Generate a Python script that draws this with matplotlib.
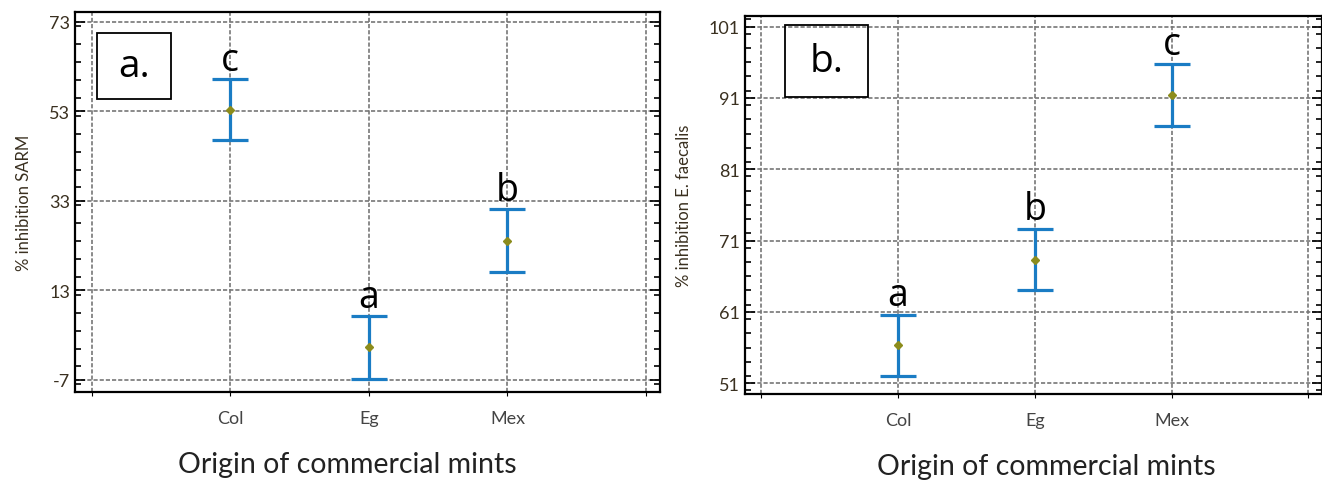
import matplotlib
matplotlib.use("Agg")
import matplotlib.pyplot as plt
from matplotlib.patches import Rectangle
from matplotlib.ticker import MultipleLocator

# datos
origens = ["Col", "Eg", "Mex"]
media_sarm = [53.4, 0.3, 24.1]
erro_sarm = [6.9, 7.0, 7.0]
letras_sarm = ["c", "a", "b"]

media_ef = [56.3, 68.3, 91.4]
erro_ef = [4.3, 4.3, 4.4]
letras_ef = ["a", "b", "c"]

plt.rcParams['font.family'] = ['Lato', 'DejaVu Sans']
plt.rcParams['axes.unicode_minus'] = False

fig = plt.figure(figsize=(13.22, 4.81), dpi=100)
ax1 = fig.add_axes([0.0567, 0.183, 0.4425, 0.790])
ax2 = fig.add_axes([0.5635, 0.179, 0.4365, 0.786])

def painel(ax, media, erro, letras, ylim, ymin, ytks, ylabel, tag, tagbox, off, xlab_x):
    x = [1, 2, 3]
    ax.errorbar(x, media, yerr=erro, fmt='none', ecolor='#1a7cc4', elinewidth=2.3,
                capsize=13, capthick=2.3, zorder=3)
    ax.plot(x, media, 'D', color='#8c8c1c', markersize=4, zorder=4)
    for xi, m, e, l in zip(x, media, erro, letras):
        ax.text(xi, m + e + off, l, ha='center', va='baseline', fontsize=27,
                family='Open Sans', color='black')
    ax.set_xlim(-0.12, 4.1)
    ax.set_ylim(*ylim)
    ax.set_xticks([0, 1, 2, 3, 4])
    ax.set_xticklabels(['', 'Col', 'Eg', 'Mex', ''], fontsize=13, color='#444444')
    ax.set_yticks(ytks)
    ax.yaxis.set_minor_locator(MultipleLocator(ymin))
    ax.tick_params(axis='y', which='both', direction='in', left=True, right=True,
                   labelsize=13, labelcolor='#3a3020')
    ax.tick_params(axis='y', which='major', length=7, width=1.2)
    ax.tick_params(axis='y', which='minor', length=4, width=1.2)
    ax.tick_params(axis='x', which='major', length=3, direction='out', pad=10)
    ax.grid(True, linestyle=(0, (2.5, 1.2)), color='#777777', linewidth=1.2)
    for s in ax.spines.values():
        s.set_linewidth(1.6)
    ax.set_ylabel(ylabel, fontsize=12, color='#3a3020', labelpad=12)
    ax.set_xlabel('Origin of commercial mints', fontsize=20.5, color='#222222',
                  va='center')
    ax.xaxis.set_label_coords(xlab_x, -0.19)
    ax.add_patch(Rectangle((tagbox[0], tagbox[1]), tagbox[2], tagbox[3],
                           transform=ax.transAxes, fill=False, edgecolor='black',
                           linewidth=1.3, zorder=5))
    ax.text(tagbox[0] + tagbox[2] / 2, tagbox[1] + tagbox[3] / 2, tag,
            transform=ax.transAxes, ha='center', va='center', fontsize=28,
            family='Open Sans', zorder=6)

painel(ax1, media_sarm, erro_sarm, letras_sarm, (-9.7, 75.2), 4,
       [-7, 13, 33, 53, 73], '% inhibition SARM', 'a.',
       (0.037, 0.77, 0.127, 0.175), 2.0, 0.465)
painel(ax2, media_ef, erro_ef, letras_ef, (49.5, 102.5), 2,
       [51, 61, 71, 81, 91, 101], '% inhibition E. faecalis', 'b.',
       (0.0695, 0.785, 0.144, 0.19), 1.4, 0.523)

fig.savefig('out.png', dpi=100)
